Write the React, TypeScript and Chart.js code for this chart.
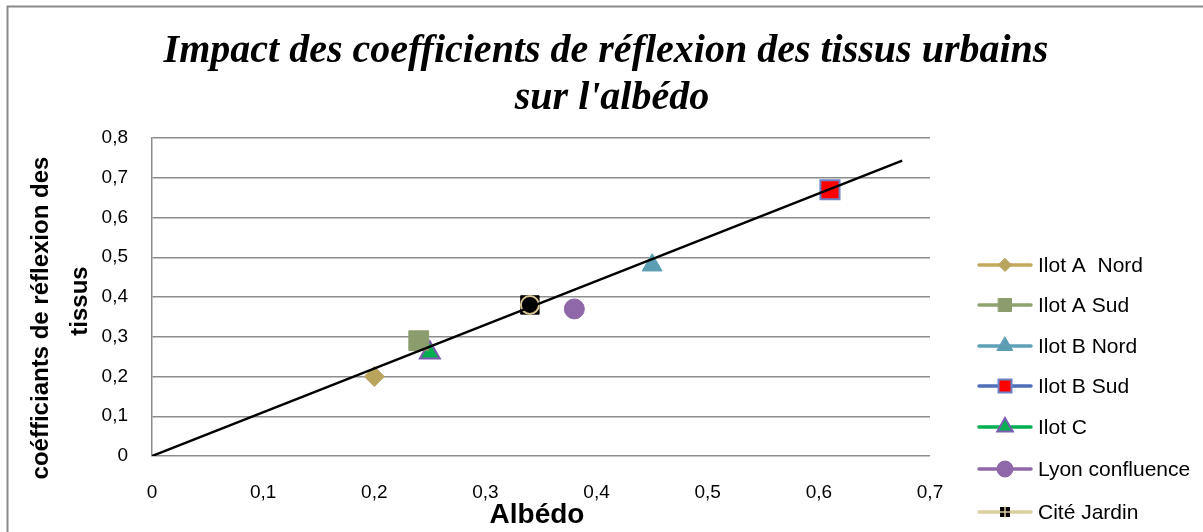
import React, { useEffect, useRef } from 'react';
import { Chart, registerables } from 'chart.js';

Chart.register(...registerables);

// ---- Data ----
const chartTitle = ["Impact des coefficients de réflexion des tissus urbains", "sur l'albédo"];
const xAxisTitle = 'Albédo';
const yAxisTitle = ['coéfficiants de réflexion des', 'tissus'];
const seriesNames = ['Ilot A  Nord', 'Ilot A Sud', 'Ilot B Nord', 'Ilot B Sud', 'Ilot C', 'Lyon confluence', 'Cité Jardin'];
const albedoValues = [0.2, 0.24, 0.45, 0.61, 0.25, 0.38, 0.34];
const coefValues = [0.2, 0.29, 0.48, 0.67, 0.26, 0.37, 0.38];
const trendX = [0, 0.675];
const trendY = [0, 0.743];
const xMin = 0, xMax = 0.7, xStep = 0.1;
const yMin = 0, yMax = 0.8, yStep = 0.1;

// ---- Styles ----
type Sty = { line: string; shape: string; fill: string; border: string; bw: number; r: number; lr: number };
const styles: Sty[] = [
  { line: '#c2a95e', shape: 'rectRot', fill: '#b9a45e', border: '#b9a45e', bw: 1, r: 10, lr: 6.5 },
  { line: '#8fa36f', shape: 'rect', fill: '#8b9d6c', border: '#8b9d6c', bw: 1, r: 14, lr: 9.2 },
  { line: '#5ea0b6', shape: 'triangle', fill: '#5b9db3', border: '#5b9db3', bw: 1, r: 11.5, lr: 9 },
  { line: '#4f6fba', shape: 'rect', fill: '#ff0000', border: '#6b83c4', bw: 2, r: 13.5, lr: 9.2 },
  { line: '#00b050', shape: 'triangle', fill: '#00b050', border: '#7a5cb0', bw: 2, r: 11.5, lr: 9 },
  { line: '#8e68a8', shape: 'circle', fill: '#8e68a8', border: '#8e68a8', bw: 1, r: 10, lr: 8 },
  { line: '#ddd09f', shape: 'rect', fill: '#000000', border: '#000000', bw: 1, r: 13, lr: 6.5 },
];
const legendY = [265, 305, 346, 386, 427, 469, 512];
const FONT = '"Liberation Sans", Arial, sans-serif';

function fmt(v: number) {
  if (Math.abs(v) < 1e-9) return '0';
  return v.toFixed(1).replace('.', ',');
}

function drawMarker(ctx: CanvasRenderingContext2D, shape: string, x: number, y: number, r: number, fill: string, border: string, bw: number) {
  ctx.save();
  ctx.beginPath();
  if (shape === 'rectRot') {
    ctx.moveTo(x, y - r); ctx.lineTo(x + r, y); ctx.lineTo(x, y + r); ctx.lineTo(x - r, y); ctx.closePath();
  } else if (shape === 'rect') {
    const s = r * Math.SQRT1_2;
    ctx.rect(x - s, y - s, 2 * s, 2 * s);
  } else if (shape === 'triangle') {
    const a = (2 * Math.PI) / 3;
    ctx.moveTo(x, y - r);
    ctx.lineTo(x + Math.sin(a) * r, y - Math.cos(a) * r);
    ctx.lineTo(x + Math.sin(2 * a) * r, y - Math.cos(2 * a) * r);
    ctx.closePath();
  } else {
    ctx.arc(x, y, r, 0, Math.PI * 2);
  }
  ctx.fillStyle = fill;
  ctx.fill();
  ctx.lineWidth = bw;
  ctx.strokeStyle = border;
  ctx.stroke();
  ctx.restore();
}

const decorPlugin = {
  id: 'decor',
  beforeDraw(chart: any) {
    const ctx = chart.ctx as CanvasRenderingContext2D;
    ctx.save();
    ctx.fillStyle = '#ffffff';
    ctx.fillRect(0, 0, chart.width, chart.height);
    ctx.restore();
  },
  afterDraw(chart: any) {
    const ctx = chart.ctx as CanvasRenderingContext2D;
    ctx.save();
    // outer frame
    ctx.strokeStyle = '#8a8a8a';
    ctx.lineWidth = 2;
    ctx.strokeRect(7.5, 6.5, 1400, 700);
    // title
    ctx.fillStyle = '#000000';
    ctx.font = 'italic bold 40px "Liberation Serif", "Times New Roman", serif';
    ctx.textAlign = 'center';
    ctx.textBaseline = 'alphabetic';
    ctx.fillText(chartTitle[0], 606, 62);
    ctx.fillText(chartTitle[1], 612, 109);
    // x axis title
    ctx.font = 'bold 28px ' + FONT;
    ctx.fillText(xAxisTitle, 537, 523);
    // y axis title
    ctx.font = 'bold 24px ' + FONT;
    ctx.save();
    ctx.translate(48, 318);
    ctx.rotate(-Math.PI / 2);
    ctx.fillText(yAxisTitle[0], 0, 0);
    ctx.restore();
    ctx.save();
    ctx.translate(87, 301);
    ctx.rotate(-Math.PI / 2);
    ctx.fillText(yAxisTitle[1], 0, 0);
    ctx.restore();
    // legend
    ctx.font = '21px ' + FONT;
    ctx.textAlign = 'left';
    ctx.textBaseline = 'middle';
    seriesNames.forEach((name, i) => {
      const st = styles[i];
      const y = legendY[i];
      ctx.strokeStyle = st.line;
      ctx.lineWidth = 3.5;
      ctx.lineCap = 'round';
      ctx.beginPath();
      ctx.moveTo(979, y);
      ctx.lineTo(1031, y);
      ctx.stroke();
      if (i === 6) {
        // black square with tan cross
        ctx.fillStyle = '#000000';
        ctx.fillRect(1005 - 5, y - 5, 10, 10);
        ctx.strokeStyle = '#ddd09f';
        ctx.lineWidth = 1.5;
        ctx.beginPath();
        ctx.moveTo(1005, y - 5); ctx.lineTo(1005, y + 5);
        ctx.moveTo(1000, y); ctx.lineTo(1010, y);
        ctx.stroke();
      } else {
        drawMarker(ctx, st.shape, 1005, y, st.lr, st.fill, st.border, st.bw);
      }
      ctx.fillStyle = '#000000';
      ctx.fillText(name, 1038, y + 1);
    });
    ctx.restore();
  },
};

export default function App() {
  const ref = useRef<HTMLCanvasElement | null>(null);
  useEffect(() => {
    if (!ref.current) return;
    const datasets: any[] = seriesNames.map((name, i) => ({
      label: name,
      data: [{ x: albedoValues[i], y: coefValues[i] }],
      pointStyle: styles[i].shape,
      pointRadius: styles[i].r,
      pointBackgroundColor: styles[i].fill,
      pointBorderColor: styles[i].border,
      pointBorderWidth: styles[i].bw,
      showLine: false,
      order: 2 + i,
    }));
    // circle overlay of Cité Jardin
    datasets.push({
      label: 'Cité Jardin (cercle)',
      data: [{ x: albedoValues[6], y: coefValues[6] }],
      pointStyle: 'circle',
      pointRadius: 9,
      pointBackgroundColor: '#000000',
      pointBorderColor: '#d9c58f',
      pointBorderWidth: 2,
      showLine: false,
      order: 1,
    });
    datasets.push({
      label: 'Tendance',
      data: trendX.map((x, i) => ({ x, y: trendY[i] })),
      showLine: true,
      borderColor: '#000000',
      borderWidth: 2.5,
      pointRadius: 0,
      order: 0,
    });
    const chart = new Chart(ref.current, {
      type: 'scatter',
      data: { datasets },
      options: {
        animation: false,
        responsive: false,
        maintainAspectRatio: false,
        devicePixelRatio: 1,
        layout: { padding: { left: 0, right: 273, top: 138, bottom: 0 } },
        plugins: { legend: { display: false }, title: { display: false }, tooltip: { enabled: false } },
        scales: {
          x: {
            type: 'linear',
            min: xMin,
            max: xMax,
            afterFit: (s: any) => { s.height = 76; },
            grid: { display: false, drawTicks: false },
            border: { display: false },
            ticks: {
              stepSize: xStep,
              padding: 25,
              color: '#000000',
              font: { family: FONT, size: 19 },
              callback: (v: any) => fmt(Number(v)),
              maxRotation: 0,
              autoSkip: false,
            },
          },
          y: {
            type: 'linear',
            min: yMin,
            max: yMax,
            afterFit: (s: any) => { s.width = 152; },
            grid: { color: '#8c8c8c', lineWidth: 1.5, drawTicks: false },
            border: { display: true, color: '#8c8c8c', width: 1.5 },
            ticks: {
              stepSize: yStep,
              padding: 24,
              color: '#000000',
              font: { family: FONT, size: 19 },
              callback: (v: any) => fmt(Number(v)),
              autoSkip: false,
            },
          },
        },
      },
      plugins: [decorPlugin],
    } as any);
    return () => chart.destroy();
  }, []);
  return (
    <div style={{ position: 'fixed', left: 0, top: 0, width: 1203, height: 532, background: '#fff' }}>
      <canvas ref={ref} width={1203} height={532} style={{ display: 'block', width: 1203, height: 532 }} />
    </div>
  );
}
